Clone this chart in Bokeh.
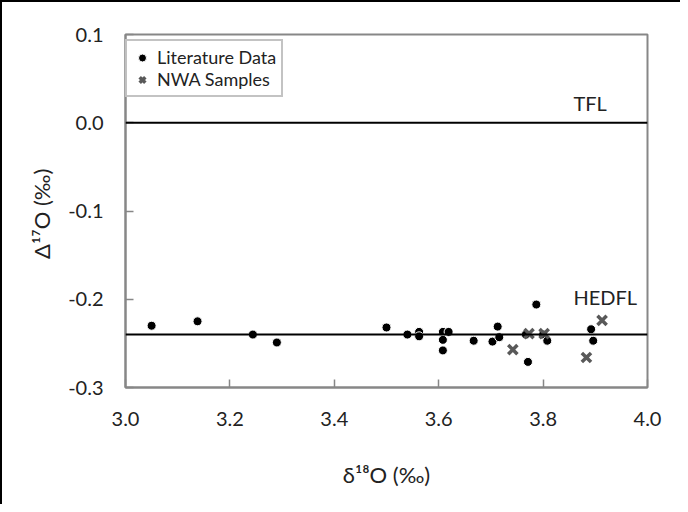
from bokeh.plotting import figure
from bokeh.models import (ColumnDataSource, FixedTicker, PrintfTickFormatter,
                          Legend, LegendItem, Span, Label)
from bokeh.embed import file_html
from bokeh.resources import INLINE

# Literature data (delta18O, Delta17O)
lit_x = [3.05, 3.138, 3.244, 3.29, 3.50, 3.54, 3.5625, 3.5625, 3.608, 3.608,
         3.608, 3.619, 3.667, 3.703, 3.713, 3.716, 3.767, 3.771, 3.787, 3.800,
         3.808, 3.892, 3.896]
lit_y = [-0.230, -0.225, -0.240, -0.249, -0.232, -0.240, -0.237, -0.242, -0.237, -0.246,
         -0.258, -0.237, -0.247, -0.248, -0.231, -0.243, -0.240, -0.271, -0.206, -0.240,
         -0.247, -0.234, -0.247]

# NWA samples
nwa_x = [3.742, 3.773, 3.802, 3.883, 3.913]
nwa_y = [-0.257, -0.239, -0.239, -0.266, -0.224]

# Reference lines
tfl_value = 0.0
hedfl_value = -0.24
line_labels = ["TFL", "HEDFL"]
line_label_x = 3.858
line_label_y = [0.022, -0.198]

x_ticks = [3.0, 3.2, 3.4, 3.6, 3.8, 4.0]
y_ticks = [-0.3, -0.2, -0.1, 0.0, 0.1]

FONT = "Lato"
TXT = "#222222"
AX = "#878787"

p = figure(width=680, height=504, output_backend="svg", toolbar_location=None,
           x_range=(3.0, 4.0), y_range=(-0.3, 0.1),
           min_border_left=123, min_border_right=35, min_border_top=32,
           min_border_bottom=119)
p.styles = {"border-left": "2px solid black", "border-top": "2px solid black"}
p.grid.visible = False
p.outline_line_color = AX
p.outline_line_width = 2

for ax in (p.xaxis[0], p.yaxis[0]):
    ax.axis_line_color = AX
    ax.axis_line_width = 2
    ax.major_tick_line_color = AX
    ax.major_tick_line_width = 1.5
    ax.major_tick_in = 8
    ax.major_tick_out = 0
    ax.minor_tick_line_color = None
    ax.major_label_text_font = FONT
    ax.major_label_text_font_size = "20px"
    ax.major_label_text_color = TXT
    ax.axis_label_text_font = FONT
    ax.axis_label_text_font_size = "22px"
    ax.axis_label_text_font_style = "normal"
    ax.axis_label_text_color = TXT
    ax.formatter = PrintfTickFormatter(format="%.1f")

p.xaxis.ticker = FixedTicker(ticks=x_ticks)
p.yaxis.ticker = FixedTicker(ticks=y_ticks)
p.xaxis.major_label_standoff = 24
p.yaxis.major_label_standoff = 22
p.xaxis.axis_label = "δ¹⁸O (‰)"
p.yaxis.axis_label = "Δ¹⁷O  (‰)"
p.xaxis.axis_label_standoff = 32
p.yaxis.axis_label_standoff = 10

p.add_layout(Span(location=tfl_value, dimension="width", line_color="black", line_width=2))
p.add_layout(Span(location=hedfl_value, dimension="width", line_color="black", line_width=2))

for lab, ly in zip(line_labels, line_label_y):
    p.add_layout(Label(x=line_label_x, y=ly, text=lab, text_font=FONT,
                       text_font_size="20px", text_color=TXT, text_baseline="middle"))

src_lit = ColumnDataSource(dict(x=lit_x, y=lit_y))
src_nwa = ColumnDataSource(dict(x=nwa_x, y=nwa_y))
r1 = p.scatter("x", "y", source=src_lit, marker="circle", size=9,
               fill_color="black", line_color="white", line_width=1)
r2 = p.scatter("x", "y", source=src_nwa, marker="x", size=13,
               line_color="#595959", line_width=3.5)

legend = Legend(items=[LegendItem(label="Literature Data", renderers=[r1]),
                       LegendItem(label="NWA Samples", renderers=[r2])],
                location=(0, 290))
legend.label_text_font = FONT
legend.label_text_font_size = "18px"
legend.label_text_color = TXT
legend.border_line_color = AX
legend.border_line_width = 2
legend.padding = 5
legend.spacing = 0
legend.margin = 0
legend.glyph_width = 20
legend.glyph_height = 21
legend.label_height = 21
legend.label_standoff = 5
p.add_layout(legend)

open("out.html", "w").write(file_html(p, INLINE))
